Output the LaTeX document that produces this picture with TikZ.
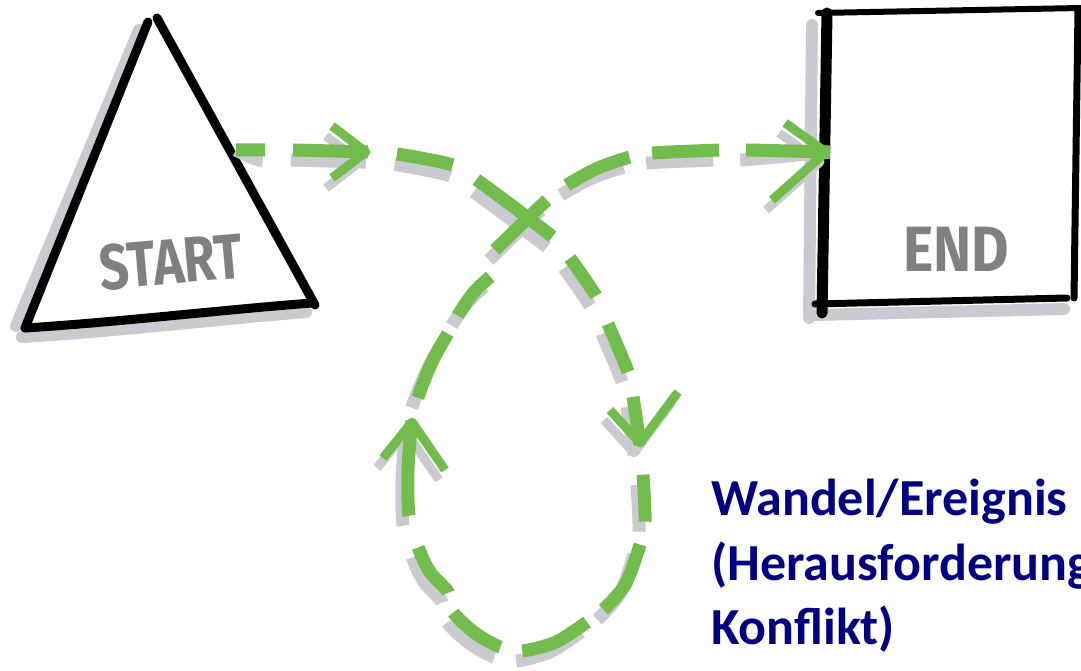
\documentclass[tikz,border=0pt]{standalone}
\usepackage{fontspec}
\setmainfont{Carlito}
\newfontfamily\startfont[FakeStretch=0.81]{Fira Sans}
\newfontfamily\endfont[FakeStretch=0.9]{Fira Sans}
\definecolor{pathgreen}{RGB}{114,188,78}
\definecolor{shade}{RGB}{202,202,208}
\definecolor{navy}{RGB}{0,0,128}
\definecolor{labelgray}{RGB}{128,128,128}
\tikzset{
  ink/.style={draw=black, line width=9pt, line cap=round},
  inkshadow/.style={draw=shade, line width=12pt, line cap=round},
  flow/.style={draw=pathgreen, line width=13pt},
  flowshadow/.style={draw=shade, line width=13pt, shift={(-6,10)}},
  chev/.style={draw=pathgreen, line width=9pt, line join=round},
  chevshadow/.style={draw=shade, line width=9pt, line join=round, shift={(-6,10)}},
  sketchtext/.style={text=labelgray, inner sep=0pt},
  caption/.style={text=navy, anchor=base west, inner sep=0pt,
    font=\bfseries\fontsize{52}{64}\selectfont},
}
% the dashed connector, in four pieces, drawn with a given style
\newcommand\flowA[1]{\draw[#1, dash pattern=on 29pt off 28pt on 75pt off 29pt on 57pt off 28pt on 95pt off 500pt]
  plot[smooth, tension=0.5] coordinates {(s) (265,150) (293,150) (368,152) (397,154) (453,165) (477,180) (515,208) (553,237)};}
\newcommand\flowB[1]{\draw[#1, dash pattern=on 46pt off 30.5pt on 52pt off 25.5pt on 48.5pt off 30pt on 47pt off 23.5pt on 76pt off 100pt]
  plot[smooth, tension=0.5] coordinates {(570,258) (596,296) (608,324) (628,372) (633,397) (640,445) (643,475) (645,522) (640,545) (625,585) (603,610)};}
\newcommand\flowC[1]{\draw[#1, dash pattern=on 72pt off 22.4pt on 59pt off 20.6pt on 55pt off 33pt on 95pt off 24pt on 71pt off 20.6pt on 51pt off 100pt]
  plot[smooth, tension=0.5] coordinates {(587,622) (556,642) (522,651) (500,647) (475,633) (453,612) (448,592) (430,572) (418,547) (409,515) (408,470) (412,420) (418,397) (432,362) (448,333) (458,315) (474,292) (491,276)};}
\newcommand\flowD[1]{\draw[#1, dash pattern=on 72pt off 25pt on 69pt off 23pt on 67pt off 27pt on 90pt]
  plot[smooth, tension=0.5] coordinates {(495,250) (547,200) (567,185) (598,168) (630,157) (653,153) (720,150) (747,150) (e)};}
\newcommand\flowheads[1]{%
  \draw[#1] (332,126) -- (366,152) -- (332,178);
  \draw[#1] (785,123) -- (826,152) -- (772,200);
  \draw[#1] (610,410) -- (640,443) -- (678,392);
  \draw[#1] (383,458) -- (412,422) -- (445,470);}
\begin{document}
\begin{tikzpicture}[x=1pt,y=-1pt]
\useasboundingbox (0,0) rectangle (1081,671);
\clip (0,0) rectangle (1081,671);
% ---------- START triangle ----------
\draw[inkshadow] (139,30) -- (16,326);
\draw[inkshadow] (22,337) .. controls (120,331) and (220,319) .. (306,312);
\draw[ink] (148,22) -- (25,328);
\draw[ink] (157,18) -- (315,305);
\draw[ink] (25,328) .. controls (120,322) and (220,310) .. (312,303);
\node[sketchtext, rotate=5, font=\startfont\bfseries\fontsize{64}{64}\selectfont] (starttxt) at (171,262) {START};
% ---------- END box ----------
\draw[inkshadow] (812,25) -- (809,318);
\draw[inkshadow] (814,315) -- (1064,309);
\draw[ink, line width=6pt] (818,13) -- (1081,8);
\draw[ink, line width=11pt] (827,13) -- (822,313);
\draw[ink, line width=7pt] (815,304) -- (1067,298);
\draw[ink, line width=7pt] (1078,9) -- (1074,298);
\node[sketchtext, font=\endfont\bfseries\fontsize{64}{64}\selectfont] (endtxt) at (956,249) {END};
% ---------- green dashed connector from START to END ----------
\coordinate (s) at (236,150);
\coordinate (e) at (830,152);
\flowA{flowshadow}\flowB{flowshadow}\flowC{flowshadow}\flowD{flowshadow}
\flowheads{chevshadow}
\flowA{flow}\flowB{flow}\flowC{flow}\flowD{flow}
\flowheads{chev}
% ---------- caption ----------
\node[caption] (cap1) at (711,515) {Wandel/Ereignis};
\node[caption] (cap2) at (711,580) {(Herausforderung};
\node[caption] (cap3) at (711,644) {Konflikt)};
\end{tikzpicture}
\end{document}
